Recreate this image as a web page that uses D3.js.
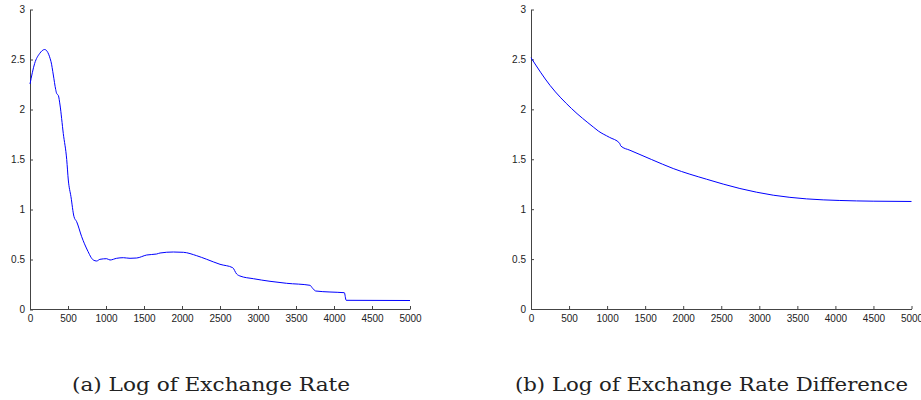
<!DOCTYPE html>
<html>
<head>
<meta charset="utf-8">
<script src="https://cdn.jsdelivr.net/npm/d3@7"></script>
<style>
  html, body { margin: 0; padding: 0; background: #fff; }
  .axis text { font-family: 'Liberation Sans', Arial, sans-serif; font-size: 10px; fill: #222; }
  .axis path, .axis line { stroke: #444; }
  .caption { font-family: 'DejaVu Serif', 'Liberation Serif', serif; font-size: 18px; fill: #222; }
</style>
</head>
<body>
<svg id="chart" width="921" height="400"></svg>
<script>
// panel (a): log of exchange rate
const rateX = [0, 61, 127, 193, 276, 307, 338, 351, 373, 395, 438, 483, 504, 539, 579, 614, 680, 754, 833, 877,
  921, 1009, 1053, 1140, 1228, 1316, 1404, 1535, 1667, 1711, 1886, 2018, 2193, 2325, 2500, 2667, 2719, 2763,
  2939, 3158, 3377, 3684, 3719, 3759, 3947, 4136, 4160, 5000];
const rateY = [2.255, 2.46, 2.56, 2.6, 2.48, 2.345, 2.2, 2.16, 2.14, 2.045, 1.76, 1.5, 1.295, 1.128, 0.928, 0.878,
  0.728, 0.595, 0.495, 0.485, 0.502, 0.508, 0.495, 0.512, 0.518, 0.512, 0.515, 0.545, 0.555, 0.565, 0.575, 0.572,
  0.538, 0.502, 0.452, 0.418, 0.355, 0.335, 0.308, 0.282, 0.262, 0.242, 0.212, 0.185, 0.175, 0.168, 0.092, 0.09];

// panel (b): log of exchange rate difference
const diffX = [0, 250, 534, 818, 884, 1030, 1165, 1180, 1300, 1432, 1585, 1869, 2307, 2745, 3183, 3621, 4058, 4496, 5000];
const diffY = [2.517, 2.24, 2.007, 1.823, 1.783, 1.72, 1.66, 1.633, 1.59, 1.547, 1.497, 1.407, 1.30, 1.207, 1.14,
  1.103, 1.087, 1.08, 1.077];

const xTicks = [0, 500, 1000, 1500, 2000, 2500, 3000, 3500, 4000, 4500, 5000];
const yTicks = [0, 0.5, 1, 1.5, 2, 2.5, 3];
const captions = ['(a) Log of Exchange Rate', '(b) Log of Exchange Rate Difference'];

const svg = d3.select('#chart');

const panels = [
  { xs: rateX, ys: rateY, x0: 30, x1: 410, y0: 309.5, y1: 9.5, caption: captions[0], cx: 211, cw: 278 },
  { xs: diffX, ys: diffY, x0: 531, x1: 911.5, y0: 309, y1: 9.5, caption: captions[1], cx: 711.5, cw: 393 }
];

panels.forEach((p) => {
  const x = d3.scaleLinear().domain([0, 5000]).range([p.x0, p.x1]);
  const y = d3.scaleLinear().domain([0, 3]).range([p.y0, p.y1]);

  svg.append('g')
    .attr('class', 'axis')
    .attr('transform', `translate(0,${Math.floor(p.y0)})`)
    .call(d3.axisBottom(x).tickValues(xTicks).tickSizeInner(-3).tickSizeOuter(0).tickPadding(6).tickFormat(d3.format('d')));

  svg.append('g')
    .attr('class', 'axis')
    .attr('transform', `translate(${Math.floor(p.x0)},0)`)
    .call(d3.axisLeft(y).tickValues(yTicks).tickSizeInner(-3).tickSizeOuter(0).tickPadding(5).tickFormat((d) => String(d)));

  const line = d3.line()
    .curve(d3.curveMonotoneX)
    .x((d) => x(d[0]))
    .y((d) => y(d[1]));

  svg.append('path')
    .datum(p.xs.map((v, i) => [v, p.ys[i]]))
    .attr('fill', 'none')
    .attr('stroke', '#0000ff')
    .attr('stroke-width', 1)
    .attr('d', line);

  svg.append('text')
    .attr('class', 'caption')
    .attr('x', p.cx)
    .attr('y', 391)
    .attr('text-anchor', 'middle')
    .attr('textLength', p.cw)
    .attr('lengthAdjust', 'spacingAndGlyphs')
    .text(p.caption);
});
</script>
</body>
</html>
